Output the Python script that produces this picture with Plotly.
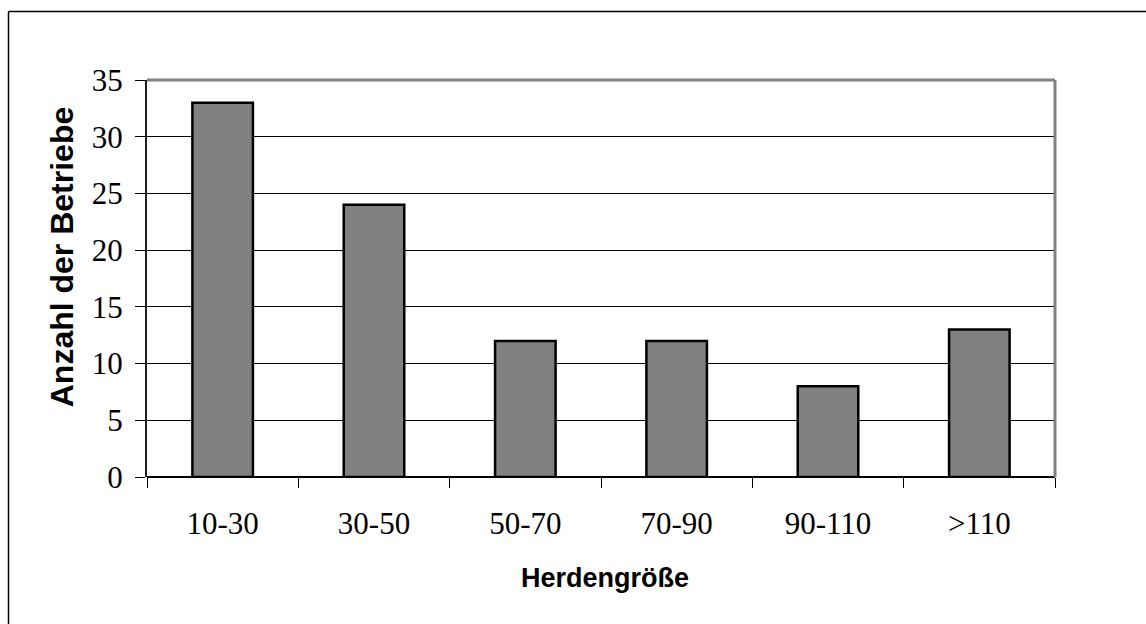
import plotly.graph_objects as go

# Herd size classes and number of farms in each class
herd_classes = ["10-30", "30-50", "50-70", "70-90", "90-110", ">110"]
farm_counts = [33, 24, 12, 12, 8, 13]
y_ticks = [0, 5, 10, 15, 20, 25, 30, 35]

W, H = 1146, 624
L, R, T, B = 147, 1055, 79.5, 477

fig = go.Figure(
    go.Bar(
        x=herd_classes,
        y=farm_counts,
        marker=dict(color="#808080", line=dict(color="#000000", width=2.5)),
    )
)

fig.update_layout(
    width=W,
    height=H,
    margin=dict(l=L, r=W - R, t=T, b=H - B, pad=0),
    paper_bgcolor="white",
    plot_bgcolor="white",
    bargap=0.6,
    showlegend=False,
    xaxis=dict(
        type="category",
        tickson="boundaries",
        ticks="outside",
        ticklen=10,
        tickwidth=1,
        tickcolor="#000000",
        showgrid=False,
        showline=False,
        zeroline=False,
        tickfont=dict(family="Liberation Serif", size=31, color="#000000"),
        ticklabelstandoff=25,
    ),
    yaxis=dict(
        range=[0, 35],
        tickvals=y_ticks,
        ticks="outside",
        ticklen=10,
        tickwidth=1,
        tickcolor="#000000",
        showgrid=True,
        gridcolor="#000000",
        gridwidth=1,
        showline=True,
        linecolor="#222222",
        linewidth=2,
        zeroline=True,
        zerolinecolor="#000000",
        zerolinewidth=1.5,
        tickfont=dict(family="Liberation Serif", size=31, color="#000000"),
        ticklabelstandoff=6,
    ),
    shapes=[
        # plot frame on top and right
        dict(type="line", xref="paper", yref="paper", x0=0, x1=1, y0=1, y1=1,
             line=dict(color="#808080", width=3), layer="above"),
        dict(type="line", xref="paper", yref="paper", x0=1, x1=1, y0=0, y1=1,
             line=dict(color="#808080", width=3), layer="above"),
        # chart border
        dict(type="line", xref="paper", yref="paper",
             x0=(8.5 - L) / (R - L), x1=(W + 5 - L) / (R - L),
             y0=(B - 11) / (B - T), y1=(B - 11) / (B - T),
             line=dict(color="#000000", width=1.5)),
        dict(type="line", xref="paper", yref="paper",
             x0=(8.5 - L) / (R - L), x1=(8.5 - L) / (R - L),
             y0=(B - 11) / (B - T), y1=(B - H - 5) / (B - T),
             line=dict(color="#000000", width=1.5)),
    ],
    annotations=[
        dict(text="<b>Herdengröße</b>", xref="paper", yref="paper",
             x=(605 - L) / (R - L), y=(B - 578) / (B - T),
             xanchor="center", yanchor="middle", showarrow=False,
             font=dict(family="Liberation Sans", size=27, color="#000000")),
        dict(text="<b>Anzahl der Betriebe</b>", xref="paper", yref="paper",
             x=(62 - L) / (R - L), y=(B - 257) / (B - T),
             xanchor="center", yanchor="middle", showarrow=False, textangle=-90,
             font=dict(family="Liberation Sans", size=32, color="#000000")),
    ],
)

fig.write_html("out.html")
